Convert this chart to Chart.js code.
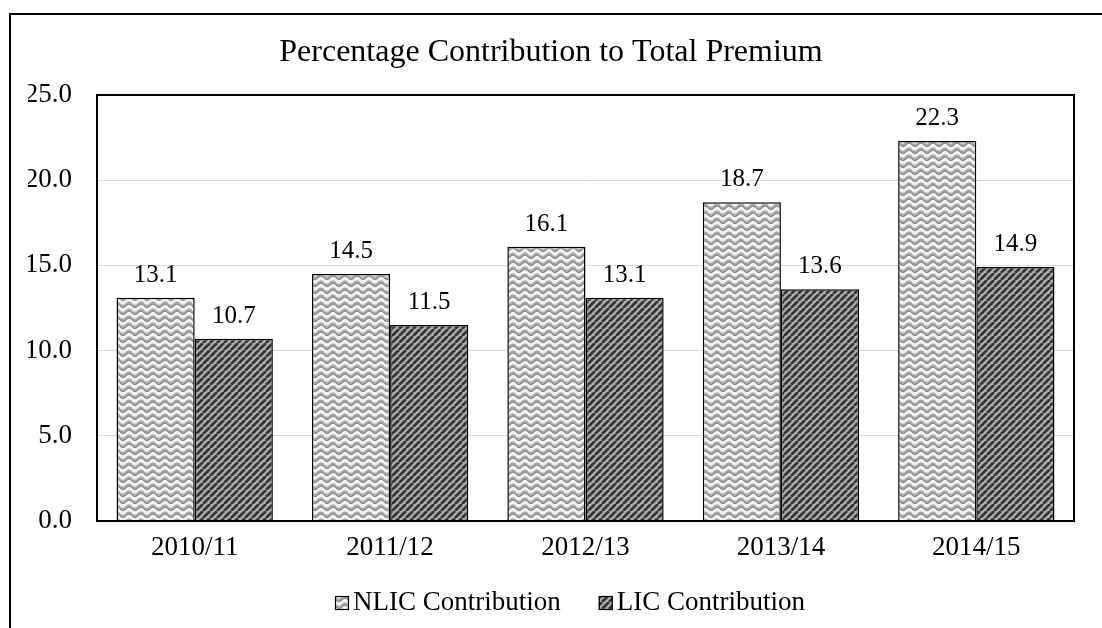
<!DOCTYPE html>
<html>
<head>
<meta charset="utf-8">
<script src="https://cdn.jsdelivr.net/npm/chart.js@4/dist/chart.umd.min.js"></script>
<style>
html,body{margin:0;padding:0;background:#fff;}
#wrap{position:relative;width:1102px;height:628px;}
</style>
</head>
<body>
<div id="wrap"><canvas id="c" width="1102" height="628"></canvas></div>
<script>
const categories = ["2010/11", "2011/12", "2012/13", "2013/14", "2014/15"];
const nlicValues = [13.1, 14.5, 16.1, 18.7, 22.3];
const licValues = [10.7, 11.5, 13.1, 13.6, 14.9];
const seriesNames = ["NLIC Contribution", "LIC Contribution"];
const yTicks = [0, 5, 10, 15, 20, 25];

function wavePattern() {
  const t = document.createElement('canvas');
  t.width = 12; t.height = 7;
  const g = t.getContext('2d');
  g.fillStyle = '#f2f2f2';
  g.fillRect(0, 0, 12, 7);
  for (const [off, col, w] of [[0, '#a8a8a8', 2.6], [1.4, '#6e6e6e', 1.0]]) {
    g.strokeStyle = col; g.lineWidth = w;
    for (const dy of [-7, 0, 7]) {
      g.beginPath();
      for (let x = 0; x <= 12; x += 0.5) {
        const y = 3.5 + dy + off + 1.7 * Math.sin(x / 12 * Math.PI * 2);
        if (x === 0) g.moveTo(x, y); else g.lineTo(x, y);
      }
      g.stroke();
    }
  }
  return g.createPattern(t, 'repeat');
}
function stripePattern() {
  const s = 7;
  const t = document.createElement('canvas');
  t.width = s; t.height = s;
  const g = t.getContext('2d');
  g.fillStyle = '#b0b0b0';
  g.fillRect(0, 0, s, s);
  g.strokeStyle = '#363636';
  g.lineWidth = 2.8;
  for (const o of [-s, 0, s]) {
    g.beginPath();
    g.moveTo(o, s); g.lineTo(o + s, 0);
    g.stroke();
  }
  return g.createPattern(t, 'repeat');
}

const serif = '"Liberation Serif", "Times New Roman", serif';
const fills = [wavePattern(), stripePattern()];

const frame = {
  id: 'frame',
  beforeDraw(chart) {
    const ctx = chart.ctx;
    ctx.save();
    ctx.fillStyle = '#fff';
    ctx.fillRect(0, 0, chart.width, chart.height);
    ctx.strokeStyle = '#000';
    ctx.lineWidth = 2;
    ctx.strokeRect(10, 14, 1200, 700);
    ctx.restore();
  },
  afterDatasetsDraw(chart) {
    const ctx = chart.ctx, a = chart.chartArea;
    ctx.save();
    ctx.strokeStyle = '#000';
    ctx.lineWidth = 2;
    ctx.strokeRect(a.left, a.top, a.right - a.left, a.bottom - a.top);
    ctx.font = '25px ' + serif;
    ctx.fillStyle = '#000';
    ctx.textAlign = 'center';
    ctx.textBaseline = 'alphabetic';
    chart.data.datasets.forEach((ds, i) => {
      chart.getDatasetMeta(i).data.forEach((bar, j) => {
        ctx.fillText(ds.data[j].toFixed(1), bar.x, bar.y - 16);
      });
    });
    // legend
    ctx.font = '27px ' + serif;
    ctx.textAlign = 'left';
    ctx.textBaseline = 'middle';
    const cy = 603;
    let x = 335;
    chart.data.datasets.forEach((ds, i) => {
      ctx.fillStyle = fills[i];
      ctx.fillRect(x, cy - 7, 14, 14);
      ctx.strokeStyle = '#000';
      ctx.lineWidth = 1.2;
      ctx.strokeRect(x + 0.5, cy - 6.5, 13, 13);
      ctx.fillStyle = '#000';
      ctx.fillText(ds.label, x + 18, cy);
      x += 18 + ctx.measureText(ds.label).width + 38;
    });
    ctx.restore();
  }
};

new Chart(document.getElementById('c'), {
  type: 'bar',
  data: {
    labels: categories,
    datasets: [
      { label: seriesNames[0], data: nlicValues, backgroundColor: fills[0], borderColor: '#000', borderWidth: 1.5 },
      { label: seriesNames[1], data: licValues, backgroundColor: fills[1], borderColor: '#000', borderWidth: 1.5 }
    ]
  },
  options: {
    responsive: false,
    animation: false,
    devicePixelRatio: 1,
    categoryPercentage: 0.8,
    barPercentage: 1.0,
    layout: { padding: { left: 28, right: 28, top: 0, bottom: 49 } },
    plugins: {
      title: {
        display: true,
        text: 'Percentage Contribution to Total Premium',
        color: '#000',
        font: { family: serif, size: 32, weight: 'normal', lineHeight: 1.2 },
        padding: { top: 33, bottom: 23.6 }
      },
      legend: { display: false },
      tooltip: { enabled: false }
    },
    scales: {
      x: {
        afterFit(s) { s.height = 58; },
        grid: { display: false, drawTicks: false },
        border: { display: true, color: '#000' },
        ticks: { color: '#000', font: { family: serif, size: 27 }, padding: 11 }
      },
      y: {
        min: 0, max: 25,
        afterFit(s) { s.width = 69; },
        afterBuildTicks(s) { s.ticks = yTicks.map(v => ({ value: v })); },
        grid: { color: '#d9d9d9', lineWidth: 1, drawTicks: false },
        border: { display: false },
        ticks: { color: '#000', font: { family: serif, size: 27 }, padding: 25, callback: v => Number(v).toFixed(1) }
      }
    }
  },
  plugins: [frame]
});
</script>
</body>
</html>
